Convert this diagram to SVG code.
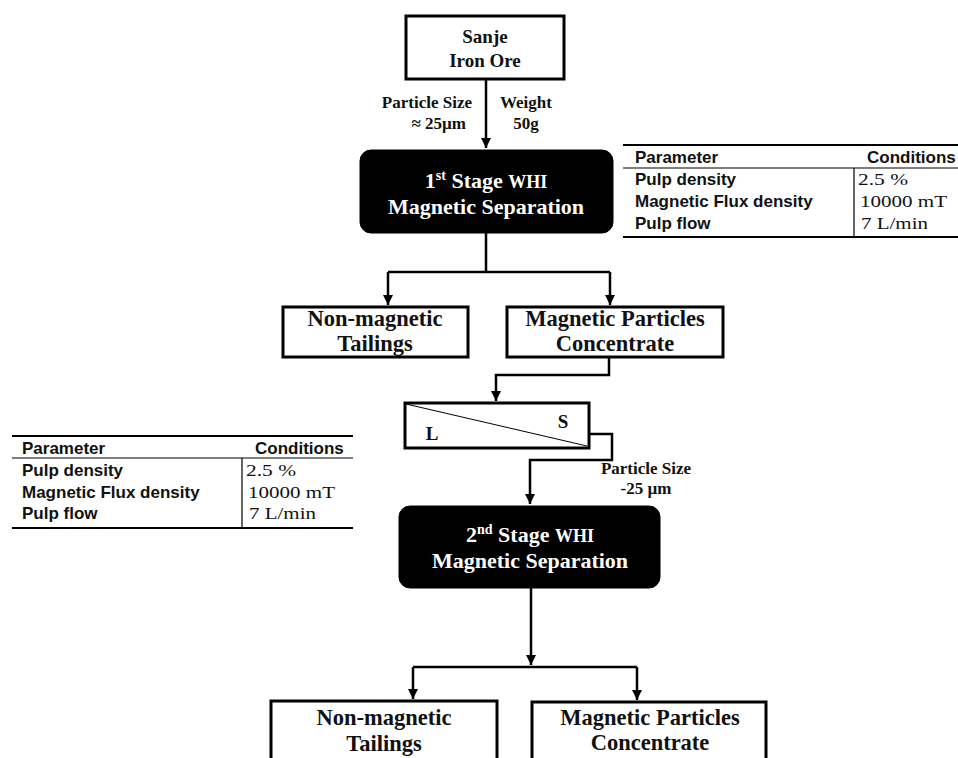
<svg xmlns="http://www.w3.org/2000/svg" width="958" height="758" viewBox="0 0 958 758">
<defs>
<marker id="ah" viewBox="0 0 10 10" refX="10" refY="5" markerWidth="10" markerHeight="10" markerUnits="userSpaceOnUse" orient="auto">
<path d="M0,0 L10,5 L0,10 z" fill="#000"/>
</marker>
<style>
.box{fill:#fff;stroke:#000;stroke-width:3}
.blk{fill:#000;stroke:#000}
.t{font-family:"Liberation Serif","Times New Roman",serif;font-weight:bold;fill:#111;text-anchor:middle}
.w{fill:#fff;font-size:22px}
.n{font-size:22.5px}
.lbl{font-family:"Liberation Serif","Times New Roman",serif;font-weight:bold;font-size:17px;fill:#111}
.tp{font-family:"Liberation Sans",Arial,sans-serif;font-weight:bold;font-size:17px;fill:#111}
.tv{font-family:"Liberation Serif","Times New Roman",serif;font-size:17px;fill:#111}
.ln{stroke:#000;stroke-width:2.5;fill:none}
.tl{stroke:#000;stroke-width:2;fill:none}
.tl1{stroke:#000;stroke-width:1.2;fill:none}
</style>
</defs>
<rect width="958" height="758" fill="#fff"/>

<g id="connectors">
<path class="ln" d="M486,79 V148" marker-end="url(#ah)"/>
<path class="ln" d="M486,233 V272 M388,272 H610"/>
<path class="ln" d="M388,272 V305" marker-end="url(#ah)"/>
<path class="ln" d="M610,272 V305" marker-end="url(#ah)"/>
<path class="ln" d="M609,357 V375 H496 V401" marker-end="url(#ah)"/>
<path class="ln" d="M589,434 H612 V460 H530 V504" marker-end="url(#ah)"/>
<path class="ln" d="M531,588 V665" marker-end="url(#ah)"/>
<path class="ln" d="M413,667 H637"/>
<path class="ln" d="M413,667 V699" marker-end="url(#ah)"/>
<path class="ln" d="M637,667 V700" marker-end="url(#ah)"/>
<text class="lbl" x="472" y="108" text-anchor="end">Particle Size</text>
<text class="lbl" x="466" y="129" text-anchor="end">≈ 25µm</text>
<text class="lbl" x="526" y="108" text-anchor="middle">Weight</text>
<text class="lbl" x="526" y="129" text-anchor="middle">50g</text>
<text class="lbl" x="646" y="474" text-anchor="middle">Particle Size</text>
<text class="lbl" x="646" y="494" text-anchor="middle">-25 µm</text>
</g>

<g id="ore">
<rect class="box" x="406" y="16" width="158" height="63"/>
<text class="t" x="485" y="43" font-size="19">Sanje</text>
<text class="t" x="485" y="67" font-size="19">Iron Ore</text>
</g>

<g id="stage1">
<rect class="blk" x="360" y="150" width="253" height="83" rx="11"/>
<text class="t w" x="486" y="188">1<tspan font-size="14" dy="-8">st</tspan><tspan dy="8"> Stage </tspan><tspan font-size="18">WHI</tspan></text>
<text class="t w" x="486" y="214">Magnetic Separation</text>
</g>

<g id="table1">
<path class="tl" d="M623,145 H958 M623,237 H958"/>
<path class="tl1" d="M623,168 H958 M854,168 V237"/>
<text class="tp" x="635" y="163">Parameter</text>
<text class="tp" x="867" y="163">Conditions</text>
<text class="tp" x="635" y="185">Pulp density</text>
<text class="tp" x="635" y="207">Magnetic Flux density</text>
<text class="tp" x="635" y="229">Pulp flow</text>
<text class="tv" x="858" y="185" textLength="50" lengthAdjust="spacingAndGlyphs">2.5 %</text>
<text class="tv" x="860" y="207" textLength="87" lengthAdjust="spacingAndGlyphs">10000 mT</text>
<text class="tv" x="861" y="229" textLength="67" lengthAdjust="spacingAndGlyphs">7 L/min</text>
</g>

<g id="tail1">
<rect class="box" x="283" y="307" width="185" height="50"/>
<text class="t n" x="375" y="326">Non-magnetic</text>
<text class="t n" x="375" y="351">Tailings</text>
</g>

<g id="conc1">
<rect class="box" x="507" y="307" width="216" height="50"/>
<text class="t n" x="615" y="326">Magnetic Particles</text>
<text class="t n" x="615" y="351">Concentrate</text>
</g>

<g id="classifier">
<rect class="box" x="405" y="403" width="184" height="45"/>
<path d="M406,404 L587,446" stroke="#000" stroke-width="1" fill="none"/>
<text class="t" x="432" y="440" font-size="19">L</text>
<text class="t" x="563" y="428" font-size="19">S</text>
</g>

<g id="table2">
<path class="tl" d="M12,436 H353 M12,528 H353"/>
<path class="tl1" d="M12,458 H353 M242,458 V528"/>
<text class="tp" x="22" y="454">Parameter</text>
<text class="tp" x="255" y="454">Conditions</text>
<text class="tp" x="22" y="476">Pulp density</text>
<text class="tp" x="22" y="498">Magnetic Flux density</text>
<text class="tp" x="22" y="519">Pulp flow</text>
<text class="tv" x="246" y="476" textLength="50" lengthAdjust="spacingAndGlyphs">2.5 %</text>
<text class="tv" x="248" y="498" textLength="87" lengthAdjust="spacingAndGlyphs">10000 mT</text>
<text class="tv" x="249" y="519" textLength="67" lengthAdjust="spacingAndGlyphs">7 L/min</text>
</g>

<g id="stage2">
<rect class="blk" x="399" y="506" width="261" height="82" rx="11"/>
<text class="t w" x="530" y="542">2<tspan font-size="14" dy="-8">nd</tspan><tspan dy="8"> Stage </tspan><tspan font-size="18">WHI</tspan></text>
<text class="t w" x="530" y="568">Magnetic Separation</text>
</g>

<g id="tail2">
<rect class="box" x="271" y="701" width="226" height="70"/>
<text class="t n" x="384" y="725">Non-magnetic</text>
<text class="t n" x="384" y="751">Tailings</text>
</g>

<g id="conc2">
<rect class="box" x="532" y="702" width="234" height="70"/>
<text class="t n" x="650" y="725">Magnetic Particles</text>
<text class="t n" x="650" y="750">Concentrate</text>
</g>
</svg>
